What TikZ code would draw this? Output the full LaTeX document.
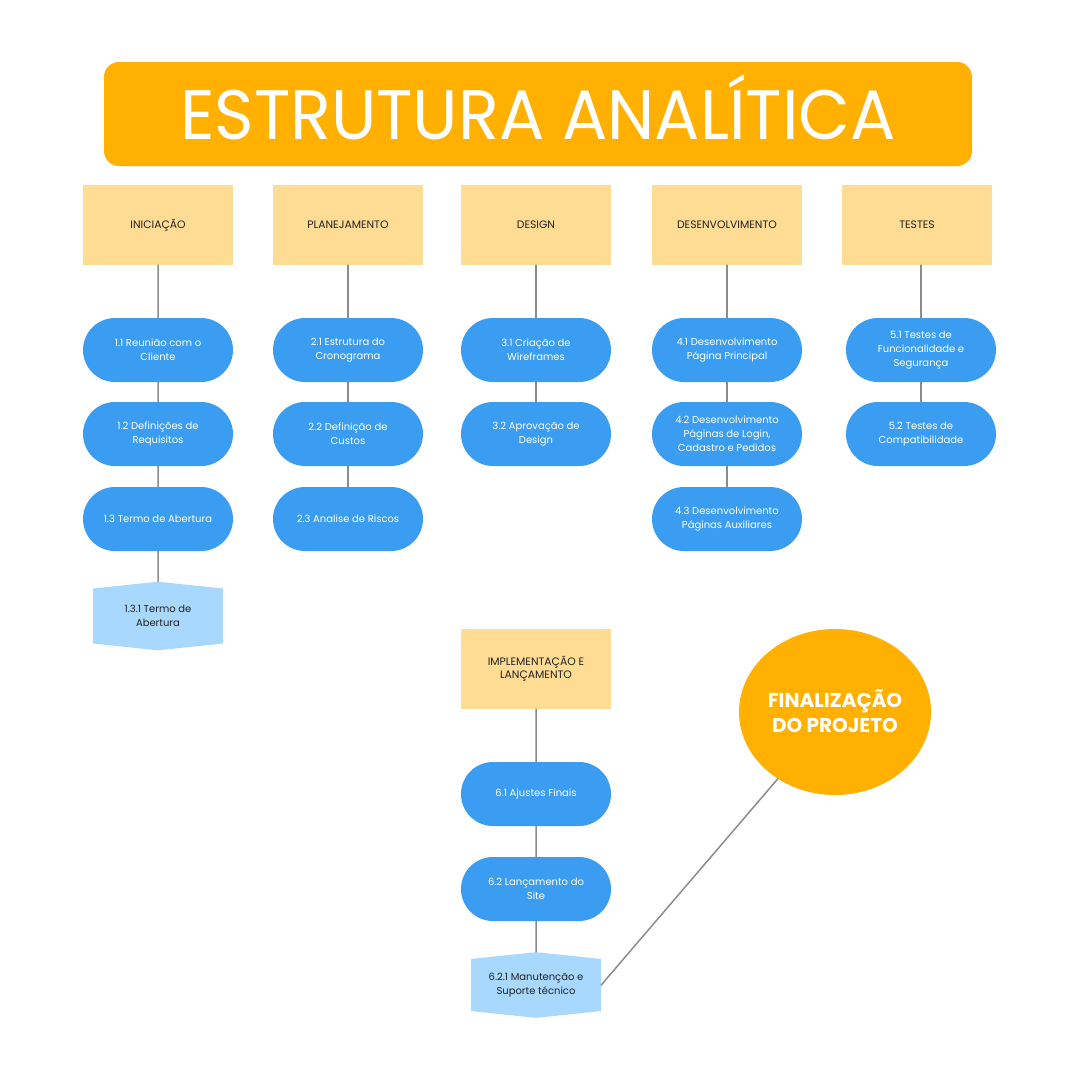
\documentclass[tikz,border=0pt]{standalone}
\usepackage{fontspec}
\setmainfont{Poppins}
\usetikzlibrary{shapes.symbols,shapes.geometric}
\definecolor{titlecol}{HTML}{FFB000}
\definecolor{phasecol}{HTML}{FFDC94}
\definecolor{taskcol}{HTML}{3A9DF2}
\definecolor{subcol}{HTML}{A9D8FE}
\definecolor{linkcol}{HTML}{8C8C8C}
\definecolor{inkcol}{HTML}{222222}
\begin{document}
\begin{tikzpicture}[line cap=round,line join=round,x=1pt,y=-1pt,
	phase/.style={fill=phasecol,minimum width=150pt,minimum height=80pt,inner sep=0pt,align=center,text=inkcol,font=\fontsize{10.8}{13}\selectfont},
	task/.style={fill=taskcol,rounded corners=32pt,minimum width=150pt,minimum height=64pt,inner sep=0pt,align=center,text=white,font=\fontsize{10}{14}\selectfont},
	subtask/.style={fill=subcol,signal,signal to=north and south,signal pointer angle=168,minimum width=130pt,minimum height=62pt,inner sep=0pt,align=center,text=inkcol,font=\fontsize{10}{14}\selectfont},
	link/.style={draw=linkcol,line width=1.5pt}]
			\fill[white] (0,0) rectangle (1080,1080);
			\useasboundingbox (0,0) rectangle (1080,1080);
			\node[fill=titlecol,rounded corners=15pt,minimum width=868pt,minimum height=104pt,inner sep=0pt,text height=50pt,text depth=0pt,text=white] (title) at (538,114) {\fontsize{70}{70}\selectfont\scalebox{0.96}[1]{ESTRUTURA ANALÍTICA}};
			\node[phase] (f1) at (158,225) {INICIAÇÃO};
			\node[phase] (f2) at (348,225) {PLANEJAMENTO};
			\node[phase] (f3) at (536,225) {DESIGN};
			\node[phase] (f4) at (727,225) {DESENVOLVIMENTO};
			\node[phase] (f5) at (917,225) {TESTES};
			\node[phase] (f6) at (536,669) {IMPLEMENTAÇÃO E\\LANÇAMENTO};
			\node[task] (t11) at (158,350) {1.1 Reunião com o\\Cliente};
			\node[task] (t12) at (158,434) {1.2 Definições de\\Requisitos};
			\node[task] (t13) at (158,519) {1.3 Termo de Abertura};
			\node[subtask] (s131) at (158,616) {1.3.1 Termo de\\Abertura};
			\node[task] (t21) at (348,350) {2.1 Estrutura do\\Cronograma};
			\node[task] (t22) at (348,434) {2.2 Definição de\\Custos};
			\node[task] (t23) at (348,519) {2.3 Analise de Riscos};
			\node[task] (t31) at (536,350) {3.1 Criação de\\Wireframes};
			\node[task] (t32) at (536,434) {3.2 Aprovação de\\Design};
			\node[task] (t41) at (727,350) {4.1 Desenvolvimento\\Página Principal};
			\node[task] (t42) at (727,434) {4.2 Desenvolvimento\\Páginas de Login,\\Cadastro e Pedidos};
			\node[task] (t43) at (727,519) {4.3 Desenvolvimento\\Páginas Auxiliares};
			\node[task] (t51) at (921,350) {5.1 Testes de\\Funcionalidade e\\Segurança};
			\node[task] (t52) at (921,434) {5.2 Testes de\\Compatibilidade};
			\node[task] (t61) at (536,794) {6.1 Ajustes Finais};
			\node[task] (t62) at (536,889) {6.2 Lançamento do\\Site};
			\node[subtask] (s621) at (536,985) {6.2.1 Manutenção e\\Suporte técnico};
			\node[ellipse,fill=titlecol,minimum width=192pt,minimum height=166pt,inner sep=0pt,align=center,text=white,font=\fontsize{20}{25}\selectfont\bfseries] (fim) at (835,712) {\raisebox{3pt}{FINALIZAÇÃO}\\\raisebox{3pt}{DO PROJETO}};
			\draw[link] (f1) -- (t11) -- (t12) -- (t13) -- (s131);
			\draw[link] (f2) -- (t21) -- (t22) -- (t23);
			\draw[link] (f3) -- (t31) -- (t32);
			\draw[link] (f4) -- (t41) -- (t42) -- (t43);
			\draw[link] (t51.north |- f5.south) -- (t51) -- (t52);
			\draw[link] (f6) -- (t61) -- (t62) -- (s621);
			\draw[link] (s621.east) -- (fim);
		\end{tikzpicture}
\end{document}
